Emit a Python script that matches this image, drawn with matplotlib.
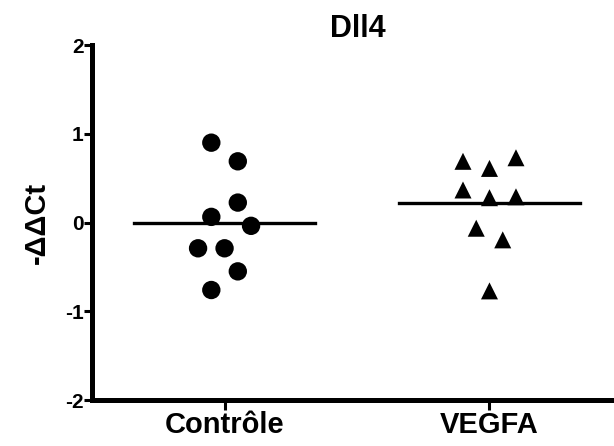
# Dll4 : nuage de points -ΔΔCt, Contrôle vs VEGFA, avec la moyenne

import numpy as np
import matplotlib
matplotlib.use("Agg")
import matplotlib.pyplot as plt

plt.rcParams["font.family"] = ["Liberation Sans", "DejaVu Sans"]
plt.rcParams["font.weight"] = "bold"

groupes = ["Contrôle", "VEGFA"]

# valeurs
controle = [0.90, 0.69, 0.225, 0.064, -0.037, -0.29, -0.29, -0.55, -0.76]
vegfa = [0.69, 0.61, 0.73, 0.367, 0.28, 0.29, -0.064, -0.195, -0.77]

# décalage horizontal de chaque point (en pas de 0.05), comme dans GraphPad
ctrl_pas = [-1, 1, 1, -1, 2, -2, 0, 1, -1]
vegfa_pas = [-2, 0, 2, -2, 0, 2, -1, 1, 0]

yticks = [-2, -1, 0, 1, 2]

fig = plt.figure(figsize=(6.14, 4.46), dpi=100)
ax = fig.add_axes([0.150, 0.103, 0.85, 0.796])

pas = 0.05
ax.scatter(0 + np.array(ctrl_pas) * pas, controle, s=175, marker="o",
           color="black", edgecolors="none", zorder=3)
ax.scatter(1 + np.array(vegfa_pas) * pas, vegfa, s=150, marker="^",
           color="black", edgecolors="none", zorder=3)

# lignes de moyenne
for i, vals in enumerate([controle, vegfa]):
    m = np.mean(vals)
    ax.plot([i - 0.34, i + 0.34], [m, m], color="black", linewidth=2.4, zorder=2)

ax.set_xlim(-0.5, 1.47)
ax.set_ylim(-2, 2)
ax.set_xticks([0, 1])
ax.set_xticklabels(groupes, fontsize=21, fontweight="bold")
ax.set_yticks(yticks)
ax.set_yticklabels([str(t) for t in yticks], fontsize=15, fontweight="bold")
ax.set_ylabel("-ΔΔCt", fontsize=21, fontweight="bold", labelpad=10)

ax.spines["top"].set_visible(False)
ax.spines["right"].set_visible(False)
for s in ["left", "bottom"]:
    ax.spines[s].set_linewidth(3.6)
    ax.spines[s].set_capstyle("projecting")
ax.tick_params(axis="y", length=6, width=2.2, pad=0)
ax.tick_params(axis="x", length=7, width=2.2, pad=1)

fig.text(0.583, 0.935, "Dll4", ha="center", va="center", fontsize=22, fontweight="bold")

fig.savefig("out.png", dpi=100)
